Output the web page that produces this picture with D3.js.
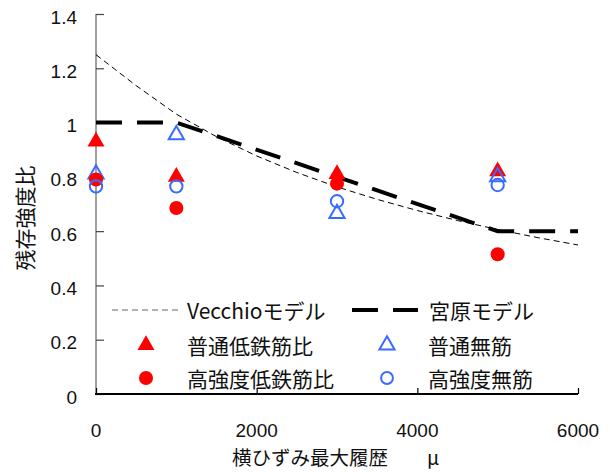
<!DOCTYPE html>
<html>
<head>
<meta charset="utf-8">
<script src="https://cdn.jsdelivr.net/npm/d3@7"></script>
<style>
  html, body { margin: 0; padding: 0; background: #ffffff; }
  svg { display: block; }
</style>
</head>
<body>
<div id="chart"></div>
<script>
// --- data ---
const X_TICKS = [0, 2000, 4000, 6000]
const Y_TICKS = [0, 0.2, 0.4, 0.6, 0.8, 1, 1.2, 1.4]

const VECCHIO_X = [0, 500, 1000, 1500, 2000, 2500, 3000, 3500, 4000, 4500, 5000, 5500, 6000]
const VECCHIO_Y = [1.25, 1.136, 1.031, 0.948, 0.877, 0.816, 0.763, 0.717, 0.676, 0.639, 0.606, 0.576, 0.549]

const MIYAHARA_X = [0, 1000, 5000, 6000]
const MIYAHARA_Y = [1.0, 1.0, 0.6, 0.6]

const TEST_X = [0, 1000, 3000, 5000]
const NORMAL_LOW_REBAR = [0.93, 0.80, 0.81, 0.82]      // 普通低鉄筋比
const NORMAL_PLAIN = [0.81, 0.955, 0.665, 0.80]        // 普通無筋
const HIGH_LOW_REBAR = [0.79, 0.685, 0.775, 0.515]     // 高強度低鉄筋比
const HIGH_PLAIN = [0.765, 0.765, 0.71, 0.77]          // 高強度無筋

const RED = '#ff0000'
const BLUE = '#3a6bff'
const NUM_FONT = "'Liberation Sans', Arial, sans-serif"
const JP_FONT = "'Noto Sans CJK JP', 'Noto Sans', sans-serif"

const W = 610, H = 472
const svg = d3.select('#chart').append('svg').attr('width', W).attr('height', H)

const x = d3.scaleLinear().domain([0, 6000]).range([96, 578])
const y = d3.scaleLinear().domain([0, 1.4]).range([394, 14])

// axes
const yAxis = svg.append('g')
  .attr('transform', `translate(${x(0)},0)`)
  .call(d3.axisRight(y).tickValues(Y_TICKS).tickSize(8).tickFormat(''))
yAxis.select('.domain').attr('stroke', '#808080').attr('stroke-width', 1.5)
  .attr('d', `M0,${y(0)}V${y(1.4)}`)
yAxis.selectAll('.tick line').attr('stroke', '#444').attr('stroke-width', 1.2)

svg.append('g').selectAll('text')
  .data(Y_TICKS)
  .join('text')
  .attr('x', 77)
  .attr('y', d => y(d) + 3)
  .attr('text-anchor', 'end')
  .attr('dominant-baseline', 'central')
  .attr('font-family', NUM_FONT)
  .attr('font-size', 19)
  .attr('fill', '#111')
  .text(d => d3.format('~g')(d))

const xAxis = svg.append('g')
  .attr('transform', `translate(0,${y(0)})`)
  .call(d3.axisTop(x).tickValues(X_TICKS).tickSize(6).tickFormat(''))
xAxis.select('.domain').attr('stroke', '#000').attr('stroke-width', 1.8)
  .attr('d', `M${x(0) - 1},0H${x(6000)}`)
xAxis.selectAll('.tick line').attr('stroke', '#000').attr('stroke-width', 1.2)

svg.append('g').selectAll('text')
  .data(X_TICKS)
  .join('text')
  .attr('x', d => x(d))
  .attr('y', 430)
  .attr('text-anchor', 'middle')
  .attr('dominant-baseline', 'central')
  .attr('font-family', NUM_FONT)
  .attr('font-size', 19)
  .attr('fill', '#111')
  .text(d => d)

// axis titles
svg.append('text')
  .attr('transform', 'translate(24,218) rotate(-90)')
  .attr('text-anchor', 'middle')
  .attr('dominant-baseline', 'central')
  .attr('font-family', JP_FONT)
  .attr('font-size', 21)
  .attr('fill', '#111')
  .text('残存強度比')

const xTitle = svg.append('text')
  .attr('y', 465)
  .attr('font-family', JP_FONT)
  .attr('font-size', 19.5)
  .attr('fill', '#111')
xTitle.append('tspan').attr('x', 232).text('横ひずみ最大履歴')
xTitle.append('tspan').attr('x', 427).text('μ')

// model lines
const line = d3.line().x(d => x(d[0])).y(d => y(d[1]))

svg.append('path')
  .datum(d3.zip(VECCHIO_X, VECCHIO_Y))
  .attr('d', line)
  .attr('fill', 'none')
  .attr('stroke', '#000')
  .attr('stroke-width', 1)
  .attr('stroke-dasharray', '6,4')

svg.append('path')
  .datum(d3.zip(MIYAHARA_X, MIYAHARA_Y))
  .attr('d', line)
  .attr('fill', 'none')
  .attr('stroke', '#000')
  .attr('stroke-width', 4)
  .attr('stroke-dasharray', '26,15')

// markers
const triangle = d3.symbol().type(d3.symbolTriangle)
const circle = d3.symbol().type(d3.symbolCircle)

function drawSeries(vals, sym, size, fill, stroke) {
  svg.append('g').selectAll('path')
    .data(d3.zip(TEST_X, vals))
    .join('path')
    .attr('transform', d => `translate(${x(d[0])},${y(d[1])})`)
    .attr('d', sym.size(size)())
    .attr('fill', fill)
    .attr('stroke', stroke)
    .attr('stroke-width', stroke === 'none' ? 0 : 2)
}

drawSeries(NORMAL_LOW_REBAR, triangle, 125, RED, 'none')
drawSeries(NORMAL_PLAIN, triangle, 100, 'none', BLUE)
drawSeries(HIGH_LOW_REBAR, circle, 155, RED, 'none')
drawSeries(HIGH_PLAIN, circle, 120, '#fff0', BLUE)

// legend
const legend = svg.append('g')
  .attr('font-family', JP_FONT)
  .attr('font-size', 21)
  .attr('fill', '#111')

legend.append('line')
  .attr('x1', 112).attr('x2', 182).attr('y1', 310).attr('y2', 310)
  .attr('stroke', '#666').attr('stroke-width', 1.2).attr('stroke-dasharray', '6,4')
legend.append('text').attr('x', 187).attr('y', 310).attr('dominant-baseline', 'central')
  .text('Vecchioモデル')

legend.append('line')
  .attr('x1', 352).attr('x2', 418).attr('y1', 310).attr('y2', 310)
  .attr('stroke', '#000').attr('stroke-width', 4).attr('stroke-dasharray', '26,15')
legend.append('text').attr('x', 429).attr('y', 310).attr('dominant-baseline', 'central')
  .text('宮原モデル')

const legendItems = [
  { sym: triangle, size: 125, fill: RED, stroke: 'none', cx: 146, cy: 345, label: '普通低鉄筋比' },
  { sym: triangle, size: 100, fill: 'none', stroke: BLUE, cx: 387, cy: 345, label: '普通無筋' },
  { sym: circle, size: 155, fill: RED, stroke: 'none', cx: 146, cy: 378, label: '高強度低鉄筋比' },
  { sym: circle, size: 110, fill: 'none', stroke: BLUE, cx: 387, cy: 378, label: '高強度無筋' },
]
for (const it of legendItems) {
  legend.append('path')
    .attr('transform', `translate(${it.cx},${it.cy})`)
    .attr('d', it.sym.size(it.size)())
    .attr('fill', it.fill)
    .attr('stroke', it.stroke)
    .attr('stroke-width', it.stroke === 'none' ? 0 : 2)
  legend.append('text')
    .attr('x', it.cx + 41).attr('y', it.cy)
    .attr('dominant-baseline', 'central')
    .text(it.label)
}
</script>
</body>
</html>
